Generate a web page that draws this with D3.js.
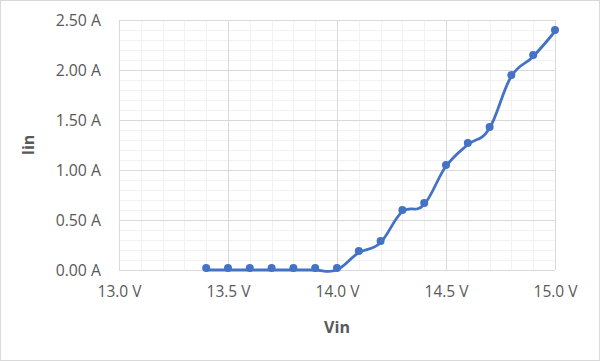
<!DOCTYPE html>
<html><head><meta charset="utf-8">
<script src="https://cdn.jsdelivr.net/npm/d3@7"></script>
<style>body{margin:0;background:#fff}svg{display:block}text{font-family:"Open Sans",Lato,sans-serif}</style>
</head><body>
<svg id="c" width="600" height="361"></svg>
<script>
const vin = [13.4,13.5,13.6,13.7,13.8,13.9,14.0,14.1,14.2,14.3,14.4,14.5,14.6,14.7,14.8,14.9,15.0];
const iin = [0.02,0.02,0.02,0.02,0.02,0.02,0.02,0.19,0.29,0.60,0.67,1.05,1.27,1.43,1.95,2.15,2.40];
const xTicks = [13.0,13.5,14.0,14.5,15.0];
const yTicks = [0,0.5,1.0,1.5,2.0,2.5];
const xMinor = d3.range(130,151).map(d=>d/10);
const yMinor = d3.range(0,26).map(d=>d/10);

const svg = d3.select("#c");
const W=600,H=361;
svg.append("rect").attr("x",0.5).attr("y",0.5).attr("width",W-1).attr("height",H-1).attr("fill","#fff").attr("stroke","#d9d9d9");
const L=119,R=555,T=20,B=270;
const x = d3.scaleLinear().domain([13,15]).range([L,R]);
const y = d3.scaleLinear().domain([0,2.5]).range([B,T]);

const g = svg.append("g");
g.selectAll(".xm").data(xMinor).join("line").attr("x1",d=>Math.round(x(d))+0.5).attr("x2",d=>Math.round(x(d))+0.5).attr("y1",T).attr("y2",B).attr("stroke","#f2f2f2");
g.selectAll(".ym").data(yMinor).join("line").attr("y1",d=>Math.round(y(d))+0.5).attr("y2",d=>Math.round(y(d))+0.5).attr("x1",L).attr("x2",R).attr("stroke","#f2f2f2");
g.selectAll(".xM").data(xTicks).join("line").attr("x1",d=>Math.round(x(d))+0.5).attr("x2",d=>Math.round(x(d))+0.5).attr("y1",T).attr("y2",B).attr("stroke","#d9d9d9");
g.selectAll(".yM").data(yTicks).join("line").attr("y1",d=>Math.round(y(d))+0.5).attr("y2",d=>Math.round(y(d))+0.5).attr("x1",L).attr("x2",R).attr("stroke","#d9d9d9");

const xAxis = d3.axisBottom(x).tickValues(xTicks).tickSize(0).tickPadding(0).tickFormat(d=>d.toFixed(1)+" V");
const xa = svg.append("g").attr("transform",`translate(0,${B+27})`).call(xAxis);
xa.select(".domain").remove();
xa.selectAll("text").attr("fill","#595959").attr("font-size","15.5px").attr("dy","0");
const yAxis = d3.axisLeft(y).tickValues(yTicks).tickSize(0).tickPadding(0).tickFormat(d=>d.toFixed(2)+" A");
const ya = svg.append("g").attr("transform",`translate(101,0)`).call(yAxis);
ya.select(".domain").remove();
ya.selectAll("text").attr("fill","#595959").attr("font-size","15.8px").attr("dy","0.35em");

svg.append("text").attr("x",(L+R)/2).attr("y",333).attr("text-anchor","middle").attr("font-weight","bold").attr("font-size","16px").attr("fill","#595959").text("Vin");
svg.append("text").attr("transform",`translate(34,${(T+B)/2}) rotate(-90)`).attr("text-anchor","middle").attr("font-weight","bold").attr("font-size","16px").attr("fill","#595959").text("Iin");

const data = vin.map((v,i)=>[v,iin[i]]);
const line = d3.line().x(d=>x(d[0])).y(d=>y(d[1])).curve(d3.curveCardinal.tension(-0.15));
svg.append("path").datum(data).attr("d",line).attr("transform","translate(-0.5,2)").attr("fill","none").attr("stroke","#4472c4").attr("stroke-width",2.8).attr("stroke-linejoin","round").attr("stroke-linecap","round");
svg.selectAll(".pt").data(data).join("circle").attr("cx",d=>x(d[0])).attr("cy",d=>y(d[1])).attr("r",4).attr("fill","#4472c4");
</script>
</body></html>
